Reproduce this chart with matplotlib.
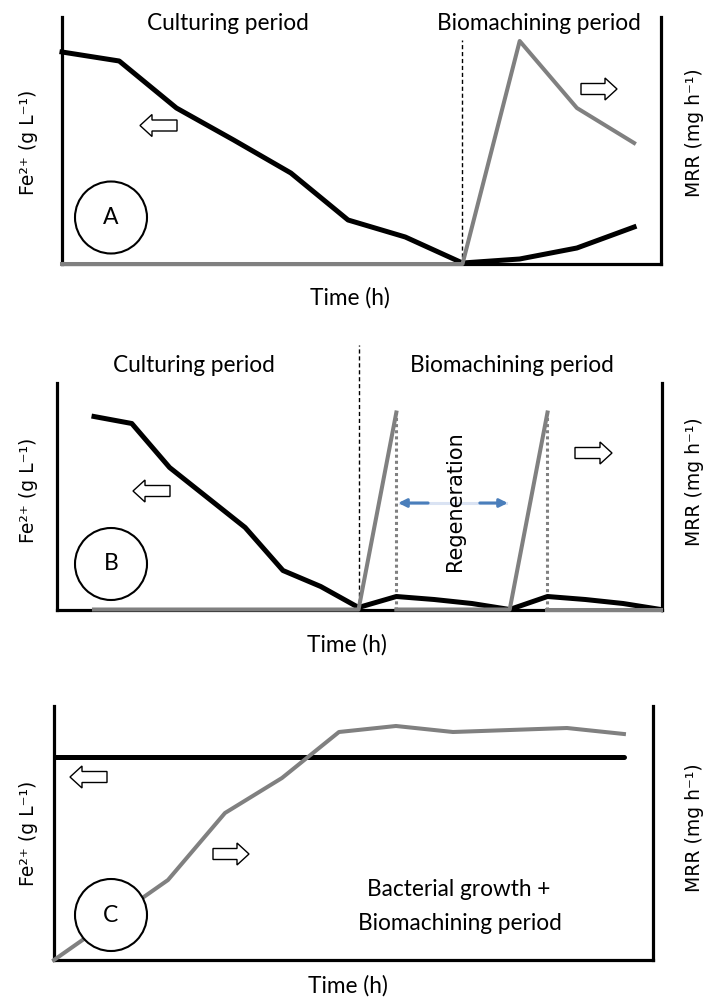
import numpy as np
import matplotlib.pyplot as plt
from matplotlib.patches import Ellipse, Polygon

#%% Data (arbitrary units)
a_fe = [212, 203, 156, 124, 91, 44, 27, 1, 5, 16, 37]
a_mrr = [0, 0, 0, 0, 0, 0, 0, 0, 223, 156, 121]

b_fe = [193, 186, 142, 112, 82, 39, 23, 2, 13, 10, 6, 0, 13, 10, 6, 0]
b_mrr_1 = [0, 0, 0, 0, 0, 0, 0, 0, 197]   # culturing + first machining
b_mrr_2 = [0, 0, 0, 0, 197]               # after regeneration
b_mrr_3 = [0, 0, 0, 0]
b_peak = 197

c_fe = [203, 203, 203, 203, 203, 203, 203, 203, 203, 203, 203]
c_mrr = [0, 40, 80, 147, 182, 228, 234, 228, 230, 232, 226]

#%% Figure helpers (pixel coords, origin top-left)
W, H = 709, 998
fig = plt.figure(figsize=(W / 100, H / 100), dpi=100)

TITLE_FONT = 'Lato'
LABEL_FONT = 'DejaVu Sans'
GRAY = '#808080'


def fx(x):
    return x / W


def fy(y):
    return 1 - y / H


def add_panel(left, top, right, bottom):
    ax = fig.add_axes([fx(left), fy(bottom), (right - left) / W, (bottom - top) / H])
    ax.spines['top'].set_visible(False)
    for s in ['left', 'right', 'bottom']:
        ax.spines[s].set_linewidth(2.3)
    ax.set_xticks([])
    ax.set_yticks([])
    return ax


def block_arrow(x_tail, x_tip, y):
    d = 1 if x_tip > x_tail else -1
    xb = x_tip - d * 12
    pts = [(x_tail, y - 5.5), (xb, y - 5.5), (xb, y - 11), (x_tip, y),
           (xb, y + 11), (xb, y + 5.5), (x_tail, y + 5.5)]
    fig.add_artist(Polygon([(fx(p), fy(q)) for p, q in pts], closed=True,
                           transform=fig.transFigure, fc='white', ec='black', lw=1.0))


def circle_label(cx, cy, txt):
    fig.add_artist(Ellipse((fx(cx), fy(cy)), 72 / W, 72 / H, transform=fig.transFigure,
                           fc='white', ec='black', lw=1.5))
    fig.text(fx(cx), fy(cy), txt, ha='center', va='center', fontsize=16.5,
             family=TITLE_FONT, zorder=5)


def axis_labels(fe_y, mrr_y, time_x, time_y):
    fig.text(fx(28), fy(fe_y), 'Fe²⁺ (g L⁻¹)', rotation=90,
             ha='center', va='center', fontsize=13.5, family=LABEL_FONT)
    fig.text(fx(695), fy(mrr_y), 'MRR (mg h⁻¹)', rotation=90,
             ha='center', va='center', fontsize=13.5, family=LABEL_FONT)
    fig.text(fx(time_x), fy(time_y), 'Time (h)', ha='center', va='center',
             fontsize=16.3, family=TITLE_FONT)


#%% Panel A
ax = add_panel(62, 17, 661, 264)
xa = np.arange(len(a_fe))
ax.plot(xa, a_fe, color='black', lw=3.6, zorder=3, clip_on=False)
ax.plot(xa, a_mrr, color=GRAY, lw=2.9, zorder=4, clip_on=False)
ax.plot([7, 7], [0, 224], color='black', lw=1, ls=(0, (3, 2)), zorder=2)
ax.set_xlim(0, 10.47)
ax.set_ylim(0, 247)
fig.text(fx(228), fy(24), 'Culturing period', ha='center', va='center',
         fontsize=16.3, family=TITLE_FONT)
fig.text(fx(539), fy(24), 'Biomachining period', ha='center', va='center',
         fontsize=16.3, family=TITLE_FONT)
block_arrow(177, 140, 125.5)
block_arrow(581, 617, 89)
circle_label(111, 217.5, 'A')
axis_labels(142, 133, 350, 298)

#%% Panel B
ax = add_panel(57, 383, 662, 609.5)
xb = np.arange(len(b_fe))
ax.plot(xb, b_fe, color='black', lw=3.6, zorder=3, clip_on=False)
ax.plot(np.arange(0, 9), b_mrr_1, color=GRAY, lw=2.9, zorder=4, clip_on=False)
ax.plot(np.arange(8, 13), b_mrr_2, color=GRAY, lw=2.9, zorder=4, clip_on=False)
ax.plot(np.arange(12, 16), b_mrr_3, color=GRAY, lw=2.9, zorder=4, clip_on=False)
for xd in [8, 12]:
    ax.plot([xd, xd], [0, b_peak], color=GRAY, lw=2.2, ls=(0, (1, 1)), zorder=2)
ax.plot([7, 7], [0, 264.5], color='black', lw=1, ls=(0, (3, 2)), zorder=2, clip_on=False)
ax.set_xlim(-0.979, 15.03)
ax.set_ylim(0, 226.5)
# regeneration arrow
ax.plot([8.1, 10.9], [106.5, 106.5], color='#dae3f3', lw=2.2, zorder=2)
ax.annotate('', xy=(8.05, 106.5), xytext=(8.84, 106.5),
            arrowprops=dict(arrowstyle='-|>', color='#4a7ebb', lw=2.2,
                            shrinkA=0, shrinkB=0, mutation_scale=12))
ax.annotate('', xy=(10.95, 106.5), xytext=(10.21, 106.5),
            arrowprops=dict(arrowstyle='-|>', color='#4a7ebb', lw=2.2,
                            shrinkA=0, shrinkB=0, mutation_scale=12))
ax.text(9.55, 108.5, 'Regeneration', rotation=90, ha='center', va='center',
        fontsize=15, family=LABEL_FONT, zorder=5)
fig.text(fx(194), fy(365), 'Culturing period', ha='center', va='center',
         fontsize=16.3, family=TITLE_FONT)
fig.text(fx(512), fy(365), 'Biomachining period', ha='center', va='center',
         fontsize=16.3, family=TITLE_FONT)
block_arrow(170, 133, 491)
block_arrow(575, 612, 453)
circle_label(111, 564, 'B')
axis_labels(490, 482, 347, 645)

#%% Panel C
ax = add_panel(54, 706, 653, 960)
xc = np.arange(len(c_fe))
ax.plot(xc, c_fe, color='black', lw=3.6, zorder=3, solid_capstyle='round')
ax.plot(xc, c_mrr, color=GRAY, lw=2.9, zorder=4, clip_on=False)
ax.set_xlim(0, 10.51)
ax.set_ylim(0, 254)
fig.text(fx(459), fy(889), 'Bacterial growth +', ha='center', va='center',
         fontsize=16.3, family=TITLE_FONT)
fig.text(fx(460), fy(924), 'Biomachining period', ha='center', va='center',
         fontsize=16.3, family=TITLE_FONT)
block_arrow(107, 70, 777)
block_arrow(213, 249, 854)
circle_label(111, 915, 'C')
axis_labels(833, 828, 348, 986)

fig.savefig('out.png', dpi=100)
